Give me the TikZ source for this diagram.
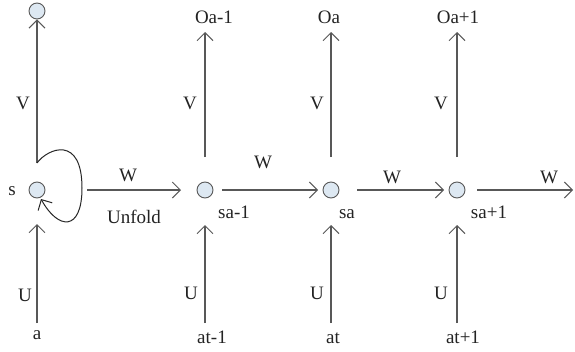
\documentclass[tikz,border=0pt]{standalone}
\usepackage{fontspec}
\setmainfont{Liberation Serif}
\usetikzlibrary{arrows.meta}
\definecolor{lncol}{RGB}{88,88,88}
\definecolor{cfill}{RGB}{221,232,242}
\definecolor{txcol}{RGB}{35,35,35}
\begin{document}
\begin{tikzpicture}[x=1pt,y=-1pt,
  conn/.style={draw=lncol,line width=1.1pt,-{Straight Barb[length=8pt,width=16pt,line width=1pt]}},
  loopline/.style={draw=black!85,line width=1pt,-{Straight Barb[length=8pt,width=16pt,line width=1pt]}},
  state/.style={circle,draw=lncol,line width=0.9pt,fill=cfill,minimum size=16pt,inner sep=0pt},
  lbl/.style={anchor=base,inner sep=0pt,text=txcol,font=\fontsize{19}{22}\selectfont}]
\useasboundingbox (0,0) rectangle (575,351);
% states
\node[state] (top) at (37,11) {};
\node[state] (s0) at (37,190) {};
\node[state] (s1) at (205,190) {};
\node[state] (s2) at (331,190) {};
\node[state] (s3) at (457,190) {};
% free ends
\coordinate (l0) at (37,163);
\coordinate (b0) at (37,323);
\coordinate (t0) at (37,224);
\coordinate (h0a) at (87,190);  \coordinate (h0b) at (181,190);
\coordinate (h1a) at (222,190); \coordinate (h1b) at (318,190);
\coordinate (h2a) at (357,190); \coordinate (h2b) at (444,190);
\coordinate (h3a) at (477,190); \coordinate (h3b) at (573,190);
\foreach \n/\x in {1/205,2/331,3/457}{
  \coordinate (u\n a) at (\x,157); \coordinate (u\n b) at (\x,32);
  \coordinate (d\n a) at (\x,323); \coordinate (d\n b) at (\x,225);
}
% left column
\draw[conn] (l0) -- (top);
\draw[conn] (b0) -- (t0);
\draw[loopline] (l0) .. controls (48,148) and (82,135) .. (82,188)
  .. controls (82,232) and (58,230) .. (41,199);
% horizontal
\draw[conn] (h0a) -- (h0b);
\draw[conn] (h1a) -- (h1b);
\draw[conn] (h2a) -- (h2b);
\draw[conn] (h3a) -- (h3b);
% verticals
\foreach \n in {1,2,3}{
  \draw[conn] (u\n a) -- (u\n b);
  \draw[conn] (d\n a) -- (d\n b);
}
% labels
\node[lbl] (ls) at (12,195) {s};
\node[lbl] (la) at (37,339) {a};
\node[lbl] (lv0) at (23,109) {V};
\node[lbl] (lu0) at (25,301) {U};
\node[lbl] (lw1) at (128,181) {W};
\node[lbl] (lunf) at (134,223) {Unfold};
\node[lbl] (lw2) at (263,168) {W};
\node[lbl] (lw3) at (392,183) {W};
\node[lbl] (lw4) at (549,183) {W};
\node[lbl] (ls1) at (234,218) {sa-1};
\node[lbl] (ls2) at (347,218) {sa};
\node[lbl] (ls3) at (489,218) {sa+1};
\node[lbl] (lo1) at (214,23) {Oa-1};
\node[lbl] (lo2) at (329,23) {Oa};
\node[lbl] (lo3) at (458,23) {Oa+1};
\node[lbl] (lv1) at (190,109) {V};
\node[lbl] (lv2) at (317,109) {V};
\node[lbl] (lv3) at (441,109) {V};
\node[lbl] (lu1) at (191,299) {U};
\node[lbl] (lu2) at (317,299) {U};
\node[lbl] (lu3) at (441,299) {U};
\node[lbl] (la1) at (212,343) {at-1};
\node[lbl] (la2) at (333,343) {at};
\node[lbl] (la3) at (463,343) {at+1};
\end{tikzpicture}
\end{document}
